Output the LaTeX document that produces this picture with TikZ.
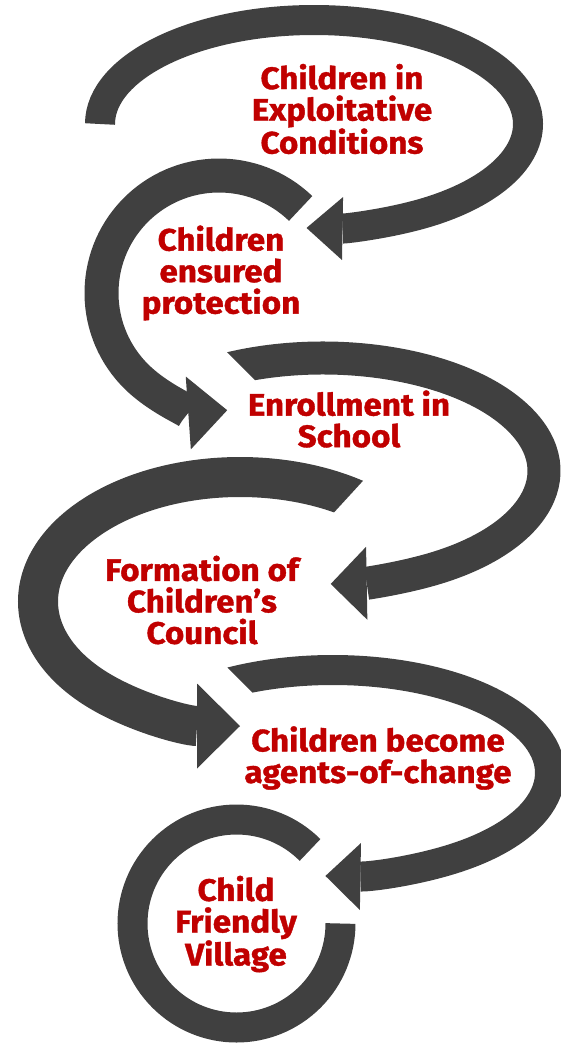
\documentclass[tikz,border=0pt]{standalone}
\usepackage{fontspec}
\setmainfont{Fira Sans}[BoldFeatures={FakeBold=1.2,FakeStretch=1.07}]
\usetikzlibrary{arrows.meta}

\definecolor{swirlgrey}{HTML}{404040}
\definecolor{stagered}{HTML}{C00000}

\tikzset{
  swirl/.style={draw=swirlgrey, line cap=butt},
  stage/.style={text=stagered, inner sep=0pt, align=center,
    font=\bfseries\fontsize{31}{31.5}\selectfont},
}

\begin{document}
\begin{tikzpicture}[x=1pt,y=1pt]
\useasboundingbox (0,0) rectangle (560,-1047);

\coordinate (c1) at (314,-124);
\coordinate (c2) at (219,-293);
\coordinate (c3) at (323,-471);
\coordinate (c4) at (240,-601.5);
\coordinate (c5) at (333,-773);
\coordinate (c6) at (236.5,-923.5);

\draw[swirl, line width=30pt, -{Triangle[length=36pt,width=63pt,line width=0pt]}]
  (c1) ++(180:214 and 104) arc[start angle=180, end angle=-92, x radius=214, y radius=104];

\draw[swirl, line width=34pt, -{Triangle[length=39pt,width=73pt,line width=0pt]}]
  (c2) ++(46:117.5) arc[start angle=46, end angle=274, radius=117.5];

\begin{scope}
  \clip (210,-335) -- (210,-300) -- (600,-300) -- (600,-700) -- (150,-700) -- (150,-395) -- (270,-395) -- cycle;
  \draw[swirl, line width=33pt, -{Triangle[length=36pt,width=73pt,line width=0pt]}]
    (c3) ++(120:221 and 113) arc[start angle=120, end angle=-88, x radius=221, y radius=113];
\end{scope}

\begin{scope}
  \clip (372,-471) -- (372,-440) -- (-10,-440) -- (-10,-800) -- (317,-800) -- (317,-531) -- cycle;
  \draw[swirl, line width=40pt, -{Triangle[length=43pt,width=85pt,line width=0pt]}]
    (c4) ++(45:202 and 124.5) arc[start angle=45, end angle=270, x radius=202, y radius=124.5];
\end{scope}

\begin{scope}
  \clip (212,-652) -- (212,-620) -- (620,-620) -- (620,-1000) -- (200,-1000) -- (200,-712) -- (272,-712) -- cycle;
  \draw[swirl, line width=30pt, -{Triangle[length=35pt,width=67pt,line width=0pt]}]
    (c5) ++(125:217 and 103) arc[start angle=125, end angle=-92, x radius=217, y radius=103];
\end{scope}

\draw[swirl, line width=30pt]
  (c6) ++(45:104) arc[start angle=45, end angle=360, radius=104];

\node[stage] (exploit) at (342,-109) {Children in\\Exploitative\\Conditions};
\node[stage] (protect) at (221,-273) {Children\\ensured\\protection};
\node[stage] (school) at (349,-419) {Enrollment in\\School};
\node[stage] (council) at (202,-600) {Formation of\\Children’s\\Council};
\node[stage] (agents) at (378,-758) {Children become\\agents-of-change};
\node[stage] (village) at (236,-924) {Child\\Friendly\\Village};
\end{tikzpicture}
\end{document}
